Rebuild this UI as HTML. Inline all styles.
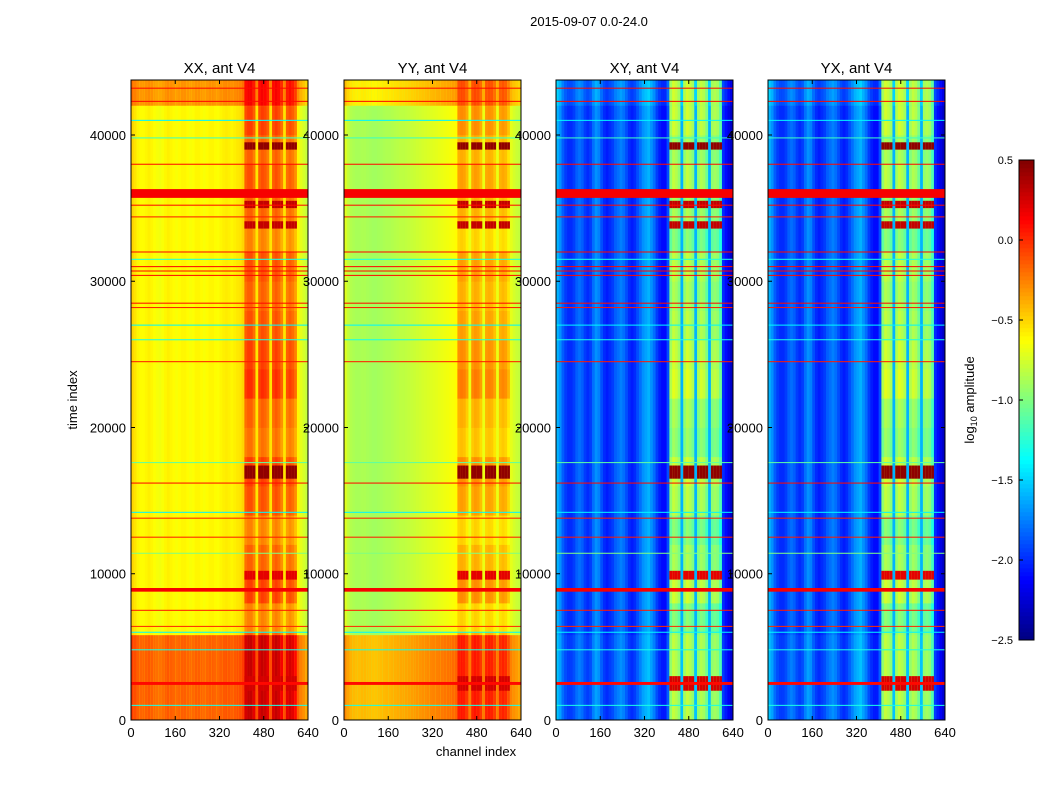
<!DOCTYPE html>
<html><head><meta charset="utf-8"><style>
body{margin:0;background:#fff;}
svg text{font-family:"Liberation Sans",sans-serif;fill:#000;}
</style></head><body>
<svg id="fig" width="1050" height="800" xmlns="http://www.w3.org/2000/svg">
<rect width="1050" height="800" fill="#fff"/>
<text x="589" y="26" font-size="13" text-anchor="middle">2015-09-07 0.0-24.0</text>
<text x="476" y="756" font-size="13" text-anchor="middle">channel index</text>
<text transform="translate(77,400) rotate(-90)" font-size="13" text-anchor="middle">time index</text>
<text transform="translate(974,400) rotate(-90)" font-size="13" text-anchor="middle">log<tspan font-size="9" dy="3">10</tspan><tspan dy="-3"> amplitude</tspan></text>
<g id="panels"></g>
<g id="cbar"></g>
</svg>
<script>
// ---- data ----
const panelTitles = ["XX, ant V4","YY, ant V4","XY, ant V4","YX, ant V4"];
const binWidth = 10;
const xxProfile = [-0.5,-0.55,-0.6,-0.62,-0.62,-0.6,-0.58,-0.6,-0.63,-0.65,-0.66,-0.64,-0.6,-0.58,-0.6,-0.62,-0.64,-0.62,-0.6,-0.6,-0.62,-0.64,-0.63,-0.6,-0.6,-0.62,-0.64,-0.62,-0.6,-0.6,-0.62,-0.63,-0.6,-0.58,-0.57,-0.58,-0.6,-0.58,-0.56,-0.55,
 -0.5,-0.2,-0.15,-0.15,-0.25,-0.55,-0.2,-0.15,-0.18,-0.25,-0.55,-0.2,-0.15,-0.2,-0.3,-0.55,-0.25,-0.2,-0.25,-0.35,-0.6,-0.7,-0.75,-0.8];
const yyProfile = [-0.72,-0.8,-0.85,-0.87,-0.88,-0.88,-0.87,-0.87,-0.88,-0.89,-0.9,-0.9,-0.89,-0.88,-0.87,-0.86,-0.86,-0.85,-0.84,-0.83,-0.82,-0.82,-0.81,-0.8,-0.79,-0.78,-0.77,-0.76,-0.75,-0.74,-0.73,-0.72,-0.71,-0.7,-0.69,-0.68,-0.67,-0.66,-0.65,-0.64,
 -0.62,-0.4,-0.38,-0.4,-0.48,-0.68,-0.42,-0.38,-0.4,-0.48,-0.68,-0.42,-0.4,-0.42,-0.5,-0.68,-0.45,-0.42,-0.45,-0.55,-0.7,-0.75,-0.78,-0.8];
const xyProfile = [-1.6,-1.7,-1.85,-1.95,-2.0,-2.0,-1.95,-1.85,-1.8,-1.85,-1.95,-2.0,-1.95,-1.8,-1.7,-1.75,-1.9,-2.0,-2.05,-2.0,-1.95,-1.85,-1.8,-1.75,-1.8,-1.9,-2.0,-2.05,-2.0,-1.9,-1.8,-1.7,-1.65,-1.6,-1.7,-1.8,-1.95,-2.05,-2.1,-2.1,
 -1.9,-1.0,-0.85,-0.9,-1.0,-1.6,-0.95,-0.85,-0.9,-1.0,-1.6,-1.0,-0.9,-0.95,-1.1,-1.6,-1.0,-0.95,-1.0,-1.2,-2.0,-2.1,-2.2,-2.3];
const yxProfile = [-1.6,-1.7,-1.85,-1.95,-2.0,-2.0,-1.95,-1.85,-1.8,-1.85,-1.95,-2.0,-1.95,-1.8,-1.7,-1.75,-1.9,-2.0,-2.05,-2.0,-1.95,-1.85,-1.8,-1.75,-1.8,-1.9,-2.0,-2.05,-2.0,-1.9,-1.8,-1.7,-1.65,-1.6,-1.7,-1.8,-1.95,-2.05,-2.1,-2.1,
 -1.9,-1.0,-0.85,-0.9,-1.0,-1.6,-0.95,-0.85,-0.9,-1.0,-1.6,-1.0,-0.9,-0.95,-1.1,-1.6,-1.0,-0.95,-1.0,-1.2,-2.0,-2.1,-2.2,-2.3];
const activeMod = [0.1,0.05,0.0,-0.1,0.1,0.0,-0.1,0.05,0.1,-0.05,0.0,0.15,0.1,0.05,0.0,0.05,-0.1,0.0,0.05,0.0,0.1,0.0];
const activeModStep = 2000;
const blockStarts = [0,42000];
const blockEnds = [5800,43760];
const blockOffsets = [0.45,0.3];
const crossBlockOffsets = [0.05,0.1];
const rfiTimes = [43200,42300,41000,39800,38000,36000,35200,34400,32000,31500,31000,30700,30400,28500,28200,27000,26000,24500,17600,16200,14200,13800,12500,11400,8900,7500,6400,6000,4800,2500,1000];
const rfiValues = [0.1,0.1,-1.4,-1.2,0.1,0.15,0.1,0.05,0.1,-1.3,0.1,0.1,0.1,0.1,0.05,-1.4,-1.3,0.05,-1.1,0.1,-1.4,0.05,0.05,-1.0,0.15,0.05,0.0,-1.4,-1.3,0.1,-1.3];
const rfiSpan = [70,70,70,70,70,600,70,70,70,70,70,70,70,70,70,70,70,70,70,70,70,70,70,70,250,70,70,70,70,200,70];
const burstStarts = [16500,39000,35000,33600,2000,9600];
const burstEnds = [17400,39500,35500,34100,3000,10200];
const burstValues = [0.45,0.45,0.3,0.3,0.25,0.2];
const xTicks = [0,160,320,480,640];
const yTicks = [0,10000,20000,30000,40000];
const cbarTicks = [0.5,0.0,-0.5,-1.0,-1.5,-2.0,-2.5];

// ---- helpers ----
const NS="http://www.w3.org/2000/svg";
const vmin=-2.5,vmax=0.5;
function jet(v){let t=Math.max(0,Math.min(1,(v-vmin)/(vmax-vmin)));
 const c=x=>Math.round(255*Math.max(0,Math.min(1,x)));
 return `rgb(${c(1.5-Math.abs(4*t-3))},${c(1.5-Math.abs(4*t-2))},${c(1.5-Math.abs(4*t-1))})`;}
function mk(tag,attrs,parent){const e=document.createElementNS(NS,tag);for(const k in attrs)e.setAttribute(k,attrs[k]);parent.appendChild(e);return e;}
const panelX=[131,344,556,768], pw=177, py0=80, py1=720, tmax=43760;
const profiles=[xxProfile,yyProfile,xyProfile,yxProfile];
const root=document.getElementById('panels');
profiles.forEach((prof,p)=>{
 const x0=panelX[p];
 const xs=c=>x0+c/640*pw, ys=t=>py1-t/tmax*(py1-py0);
 const g=mk('g',{},root);
 
 
 const cross=p>=2;
 prof.forEach((val,i)=>{
  const c=i*binWidth, w=xs(c+binWidth)-xs(c)+0.4;
  const active = c>=410 && c<600 && val>(cross?-1.3:(p==1?-0.6:-0.4));
  if(active){
   activeMod.forEach((m,k)=>{
    const t0=k*activeModStep, t1=Math.min(tmax,(k+1)*activeModStep);
    const r=mk('rect',{x:xs(c),y:ys(t1),width:w,height:ys(t0)-ys(t1)+0.4,fill:jet(val+m)},g);
    
    
   });
  } else {
   const r=mk('rect',{x:xs(c),y:py0,width:w,height:py1-py0,fill:jet(val)},g);
   
   
  }
  blockStarts.forEach((b,j)=>{
   const off=cross?crossBlockOffsets[j]:blockOffsets[j];
   const rb=mk('rect',{x:xs(c),y:ys(blockEnds[j]),width:w,height:ys(b)-ys(blockEnds[j]),fill:jet(val+off)},g);
   
   
  });
  if(active){
   burstStarts.forEach((b,j)=>{
    const rb=mk('rect',{x:xs(c),y:ys(burstEnds[j]),width:w,height:ys(b)-ys(burstEnds[j]),fill:jet(burstValues[j])},g);
    
    
   });
  }
 });
 rfiTimes.forEach((t,i)=>{
  const h=Math.max(1,rfiSpan[i]/tmax*(py1-py0));
  const l=mk('rect',{x:x0,y:ys(t)-h/2,width:pw,height:h,fill:jet(rfiValues[i])},g);
  
  
 });
 mk('rect',{x:x0,y:py0,width:pw,height:py1-py0,fill:'none',stroke:'#000','stroke-width':1},g);
 const tt=mk('text',{x:x0+pw/2,y:73,'font-size':15,'text-anchor':'middle'},g);tt.textContent=panelTitles[p];
 
 
 xTicks.forEach(v=>{const x=xs(v);
  mk('line',{x1:x,x2:x,y1:py1,y2:py1-4,stroke:'#000'},g);
  mk('line',{x1:x,x2:x,y1:py0,y2:py0+4,stroke:'#000'},g);
  const t=mk('text',{x:x,y:py1+17,'font-size':13,'text-anchor':'middle'},g);t.textContent=v;
  
  });
 yTicks.forEach(v=>{const y=ys(v);
  mk('line',{x1:x0,x2:x0+4,y1:y,y2:y,stroke:'#000'},g);
  mk('line',{x1:x0+pw,x2:x0+pw-4,y1:y,y2:y,stroke:'#000'},g);
  const t=mk('text',{x:x0-5,y:y+5,'font-size':13,'text-anchor':'end'},g);t.textContent=v;
  
  });
});
// colorbar
const cb=document.getElementById('cbar');


const cbx=1019,cbw=15,cby0=160,cby1=640;
const cys=v=>cby1-(v-vmin)/(vmax-vmin)*(cby1-cby0);
for(let k=0;k<120;k++){const v0=vmin+k*(vmax-vmin)/120;
 mk('rect',{x:cbx,y:cys(v0+(vmax-vmin)/120)-0.3,width:cbw,height:(cby1-cby0)/120+0.6,fill:jet(v0+(vmax-vmin)/240)},cb);}
mk('rect',{x:cbx,y:cby0,width:cbw,height:cby1-cby0,fill:'none',stroke:'#000'},cb);
cbarTicks.forEach(v=>{const y=cys(v);
 mk('line',{x1:cbx,x2:cbx+4,y1:y,y2:y,stroke:'#000'},cb);
 const t=mk('text',{x:cbx-6,y:y+4,'font-size':11,'text-anchor':'end'},cb);
 t.textContent=(v<0?'\u2212':'')+Math.abs(v).toFixed(1);
 
 });
</script>
</body></html>
